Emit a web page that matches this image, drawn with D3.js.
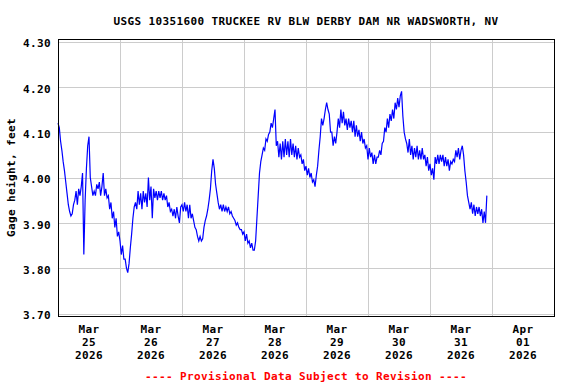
<!DOCTYPE html>
<html>
<head>
<meta charset="utf-8">
<script src="https://cdn.jsdelivr.net/npm/d3@7"></script>
<style>
html,body{margin:0;padding:0;background:#fff;}
svg{display:block;}
text{font-family:"DejaVu Sans Mono",monospace;font-weight:bold;font-size:11px;letter-spacing:0.38px;}
</style>
</head>
<body>
<script>
const title = "USGS 10351600 TRUCKEE RV BLW DERBY DAM NR WADSWORTH, NV";
const yLabel = "Gage height, feet";
const footer = "---- Provisional Data Subject to Revision ----";
const yTicks = [3.70, 3.80, 3.90, 4.00, 4.10, 4.20, 4.30];
const dayLabels = [["Mar","25","2026"],["Mar","26","2026"],["Mar","27","2026"],["Mar","28","2026"],["Mar","29","2026"],["Mar","30","2026"],["Mar","31","2026"],["Apr","01","2026"]];
const startTime = "2026-03-25T00:00:00Z";
const endTime = "2026-04-02T00:00:00Z";
// half-hourly gage height, feet
const mar25 = [4.12,4.11,4.08,4.06,4.035,4.015,3.99,3.965,3.94,3.925,3.915,3.92,3.94,3.95,3.97,3.94,3.975,3.96,3.98,4.01,3.83,3.95,4.02,4.07,4.09,4.00,3.98,3.96,3.97,3.96,3.985,3.975,3.99,3.96,3.98,4.01,3.96,3.975,3.955,3.96,3.93,3.945,3.91,3.925,3.89,3.91,3.87,3.88];
const mar26 = [3.86,3.83,3.85,3.82,3.82,3.80,3.79,3.81,3.845,3.875,3.91,3.935,3.945,3.93,3.97,3.94,3.965,3.93,3.97,3.945,3.965,3.935,4.00,3.95,3.98,3.91,3.975,3.955,3.97,3.95,3.97,3.955,3.97,3.95,3.965,3.95,3.96,3.935,3.945,3.925,3.93,3.915,3.93,3.91,3.935,3.915,3.90,3.935];
const mar27 = [3.94,3.925,3.945,3.925,3.94,3.91,3.94,3.91,3.92,3.905,3.89,3.885,3.87,3.86,3.87,3.86,3.865,3.89,3.905,3.915,3.93,3.95,3.975,4.015,4.04,4.02,3.985,3.965,3.945,3.93,3.94,3.925,3.94,3.925,3.935,3.925,3.935,3.92,3.925,3.915,3.91,3.905,3.895,3.90,3.89,3.885,3.885,3.875];
const mar28 = [3.88,3.86,3.875,3.855,3.86,3.845,3.855,3.84,3.84,3.86,3.91,3.96,4.01,4.035,4.05,4.065,4.06,4.085,4.08,4.095,4.10,4.12,4.11,4.13,4.15,4.07,4.08,4.045,4.075,4.04,4.08,4.045,4.085,4.05,4.08,4.045,4.085,4.05,4.075,4.045,4.07,4.04,4.065,4.045,4.05,4.03,4.04,4.015];
const mar29 = [4.025,4.005,4.02,4.00,4.01,3.99,3.995,3.98,4.005,4.025,4.06,4.09,4.13,4.115,4.13,4.15,4.165,4.15,4.14,4.10,4.10,4.07,4.09,4.075,4.10,4.13,4.11,4.15,4.12,4.145,4.115,4.13,4.105,4.13,4.11,4.125,4.10,4.125,4.09,4.115,4.09,4.105,4.08,4.10,4.075,4.085,4.065,4.07];
const mar30 = [4.04,4.065,4.045,4.055,4.03,4.05,4.03,4.045,4.045,4.06,4.05,4.075,4.08,4.11,4.10,4.13,4.11,4.14,4.125,4.15,4.13,4.165,4.15,4.175,4.155,4.18,4.19,4.135,4.10,4.085,4.075,4.055,4.085,4.05,4.07,4.04,4.065,4.045,4.07,4.04,4.06,4.04,4.065,4.04,4.05,4.025,4.045,4.015];
const mar31 = [4.03,4.005,4.02,3.995,4.045,4.03,4.05,4.03,4.05,4.035,4.05,4.025,4.045,4.025,4.04,4.015,4.035,4.03,4.04,4.035,4.06,4.045,4.065,4.04,4.06,4.07,4.05,4.015,3.99,3.96,3.945,3.93,3.945,3.92,3.94,3.915,3.935,3.92,3.935,3.915,3.93,3.90,3.925,3.90,3.96];

const values = [].concat(mar25, mar26, mar27, mar28, mar29, mar30, mar31);
const t0 = new Date(startTime);
const data = values.map((v, i) => ({t: new Date(t0.getTime() + i * 1800000), v}));

const W = 576, H = 384;
const svg = d3.select("body").append("svg").attr("width", W).attr("height", H);

const x = d3.scaleUtc().domain([t0, new Date(endTime)]).range([58, 554]);
const y = d3.scaleLinear().domain([3.70, 4.30]).range([313.5, 41.5]);

const frame = {l: 58, r: 554, t: 39, b: 316};

// gridlines
const days = d3.utcDay.range(d3.utcDay.offset(t0, 1), new Date(endTime));
svg.append("g").selectAll("line.h").data(yTicks).join("line")
  .attr("x1", frame.l).attr("x2", frame.r)
  .attr("y1", d => Math.round(y(d)) + 0.5).attr("y2", d => Math.round(y(d)) + 0.5)
  .attr("stroke", "#cccccc").attr("stroke-width", 1);
svg.append("g").selectAll("line.v").data(days).join("line")
  .attr("x1", d => Math.round(x(d)) + 0.5).attr("x2", d => Math.round(x(d)) + 0.5)
  .attr("y1", frame.t).attr("y2", frame.b)
  .attr("stroke", "#cccccc").attr("stroke-width", 1);

// data line
const line = d3.line().x(d => x(d.t)).y(d => y(d.v));
svg.append("path").datum(data)
  .attr("d", line).attr("fill", "none")
  .attr("stroke", "#0000ff").attr("stroke-width", 1.2)
  .attr("stroke-linejoin", "miter");

// frame
svg.append("rect").attr("x", frame.l + 0.5).attr("y", frame.t + 0.5)
  .attr("width", frame.r - frame.l).attr("height", frame.b - frame.t)
  .attr("fill", "none").attr("stroke", "#000").attr("stroke-width", 1);

// y axis labels
const yAxis = d3.axisLeft(y).tickValues(yTicks).tickFormat(d3.format(".2f")).tickSize(0).tickPadding(0);
const ya = svg.append("g").attr("transform", "translate(51,1.5)").call(yAxis);
ya.select(".domain").remove();
ya.selectAll("text").attr("font-family", null).attr("font-size", null).attr("fill", "#000").attr("dy", "0.36em");

// x labels at noon of each day
const noons = d3.utcDay.range(t0, new Date(endTime)).map(d => d3.utcHour.offset(d, 12));
const xl = svg.append("g").selectAll("text").data(noons).join("text")
  .attr("text-anchor", "middle").attr("fill", "#000");
xl.each(function(d, i) {
  const sel = d3.select(this);
  dayLabels[i].forEach((s, k) => {
    sel.append("tspan").attr("x", x(d)).attr("y", 333 + k * 12.8).text(s);
  });
});

// title
svg.append("text").attr("x", (frame.l + frame.r) / 2).attr("y", 24.5)
  .attr("text-anchor", "middle").attr("fill", "#000").text(title);

// y axis title
svg.append("text").attr("transform", `translate(15,${(frame.t + frame.b) / 2}) rotate(-90)`)
  .attr("text-anchor", "middle").attr("fill", "#000").text(yLabel);

// footer
svg.append("text").attr("x", (frame.l + frame.r) / 2).attr("y", 379.5)
  .attr("text-anchor", "middle").attr("fill", "#ff0000").text(footer);
</script>
</body>
</html>
